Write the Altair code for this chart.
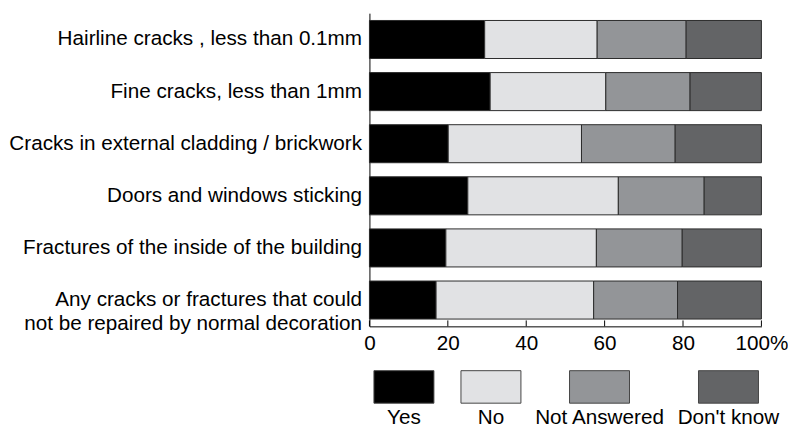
import altair as alt
import pandas as pd

categories = [
    "Hairline cracks , less than 0.1mm",
    "Fine cracks, less than 1mm",
    "Cracks in external cladding / brickwork",
    "Doors and windows sticking",
    "Fractures of the inside of the building",
    "Any cracks or fractures that could |not be repaired by normal decoration",
]
responses = ["Yes", "No", "Not Answered", "Don't know"]
colors = ["#000000", "#e1e2e4", "#939598", "#636466"]

yes = [29.4, 30.8, 20.1, 25.1, 19.5, 17.0]
no = [28.7, 29.5, 34.0, 38.4, 38.4, 40.2]
not_answered = [22.7, 21.5, 23.9, 21.9, 21.9, 21.4]
dont_know = [19.2, 18.2, 22.0, 14.6, 20.2, 21.4]

tick_values = [0, 20, 40, 60, 80, 100]

# legend layout (item centres along the 0-100 axis, swatch half-width in axis units)
legend_centres = [8.8, 31.0, 58.7, 91.6]
swatch_half = 7.65

rows = []
for i, c in enumerate(categories):
    for j, (r, v) in enumerate(zip(responses, [yes[i], no[i], not_answered[i], dont_know[i]])):
        rows.append({"category": c, "response": r, "value": v, "order": j})
df = pd.DataFrame(rows)

FONT = "Liberation Sans"
FS = 21

xscale = alt.Scale(domain=[0, 100], nice=False, zero=True)
cscale = alt.Scale(domain=responses, range=colors)

bars = alt.Chart(df).mark_bar(stroke="#2b2b2b", strokeWidth=1).encode(
    y=alt.Y(
        "category:N",
        sort=categories,
        scale=alt.Scale(paddingInner=0.27, paddingOuter=0.14),
        axis=alt.Axis(
            title=None,
            ticks=False,
            domain=True,
            domainColor="#000000",
            domainWidth=1,
            labelExpr="split(datum.label, '|')",
            labelFontSize=FS,
            labelFont=FONT,
            labelColor="#000000",
            labelPadding=8,
            labelLimit=600,
            labelLineHeight=24,
        ),
    ),
    x=alt.X(
        "value:Q",
        stack="zero",
        scale=xscale,
        axis=alt.Axis(
            title=None,
            values=tick_values,
            ticks=False,
            grid=False,
            domainColor="#000000",
            domainWidth=1,
            labelExpr="datum.value == 100 ? '100%' : datum.label",
            labelFontSize=FS,
            labelFont=FONT,
            labelColor="#000000",
            labelPadding=7,
            labelFlush=False,
        ),
    ),
    color=alt.Color("response:N", scale=cscale, legend=None),
    order=alt.Order("order:Q"),
)

ticks_df = pd.DataFrame({"t": tick_values})
tick_rules = alt.Chart(ticks_df).mark_rule(color="#000000", strokeWidth=1).encode(
    x=alt.X("t:Q", scale=xscale),
    y=alt.value(312),
    y2=alt.value(318),
)

top = alt.layer(bars, tick_rules).properties(width=398, height=318)

leg_df = pd.DataFrame({"response": responses, "centre": legend_centres})
leg_base = alt.Chart(leg_df).transform_calculate(
    x0=f"datum.centre - {swatch_half}", x1=f"datum.centre + {swatch_half}"
)
leg_rect = leg_base.mark_rect(stroke="#444444", strokeWidth=1).encode(
    x=alt.X("x0:Q", scale=xscale, axis=None),
    x2="x1:Q",
    y=alt.value(0),
    y2=alt.value(33),
    color=alt.Color("response:N", scale=cscale, legend=None),
)
leg_text = leg_base.mark_text(
    fontSize=FS, font=FONT, color="#000000", baseline="middle", align="center"
).encode(
    x=alt.X("centre:Q", scale=xscale, axis=None),
    y=alt.value(48),
    text="response:N",
)
legend = alt.layer(leg_rect, leg_text).properties(width=398, height=50)

chart = alt.vconcat(top, legend, spacing=16).properties(
    padding={"left": 0, "top": 2, "right": 0, "bottom": 0}
).configure_view(stroke=None)

chart.save("out.html", embed_options={"renderer": "svg", "actions": False})
